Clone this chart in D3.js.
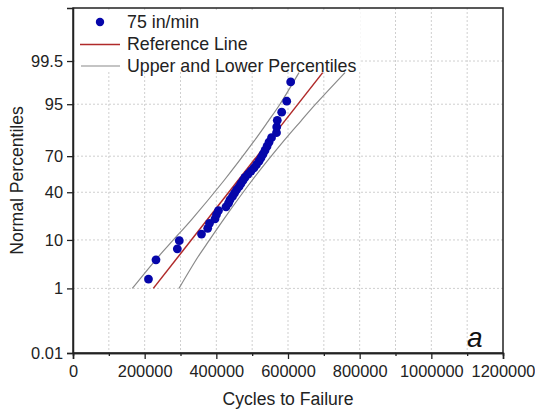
<!DOCTYPE html>
<html><head><meta charset="utf-8">
<script src="https://cdn.jsdelivr.net/npm/d3@7"></script>
<style>
html,body{margin:0;padding:0;background:#fff;}
svg{display:block;font-family:"Liberation Sans",Arial,sans-serif;}
</style></head>
<body><svg id="chart" width="535" height="413"></svg>
<script>
// ---- data ----
const seriesName = "75 in/min";
const cycles = [210700, 231600, 291100, 296600, 358600, 375900, 380900, 396300, 400500, 406000,
  427000, 434000, 438100, 445100, 450700, 456300, 463300, 468800, 474400, 480000,
  488400, 496700, 505100, 512100, 519100, 524700, 530200, 535800, 541400, 547000,
  554000, 567900, 568500, 570100, 582400, 596400, 607500];
const refPct = [1, 99];
const refCycles = [224100, 696800];
const bandPct = [1, 5, 10, 20, 50, 80, 90, 95, 99];
const bandLowerCycles = [165500, 238000, 280000, 331000, 421400, 504500, 545000, 577500, 630700];
const bandUpperCycles = [295800, 349000, 381000, 420000, 499500, 587000, 636000, 677000, 759100];
const yTickPct = [0.01, 1, 10, 40, 70, 95, 99.5];
const yTickLabels = ["0.01", "1", "10", "40", "70", "95", "99.5"];
const xTicks = [0, 200000, 400000, 600000, 800000, 1000000, 1200000];
const xMinorTicks = [100000, 300000, 500000, 700000, 900000, 1100000];
const xGrid = [100000, 200000, 300000, 400000, 500000, 600000, 700000, 800000, 900000, 1000000, 1100000];
const legendLabels = ["75 in/min", "Reference Line", "Upper and Lower Percentiles"];

// inverse normal CDF (probability-axis transform)
function probit(p){
  const a=[-3.969683028665376e+01,2.209460984245205e+02,-2.759285104469687e+02,1.383577518672690e+02,-3.066479806614716e+01,2.506628277459239e+00];
  const b=[-5.447609879822406e+01,1.615858368580409e+02,-1.556989798598866e+02,6.680131188771972e+01,-1.328068155288572e+01];
  const c=[-7.784894002430293e-03,-3.223964580411365e-01,-2.400758277161838e+00,-2.549732539343734e+00,4.374664141464968e+00,2.938163982698783e+00];
  const d=[7.784695709041462e-03,3.224671290700398e-01,2.445134137142996e+00,3.754408661907416e+00];
  const pl=0.02425, ph=1-pl;
  if(p<pl){const q=Math.sqrt(-2*Math.log(p));return (((((c[0]*q+c[1])*q+c[2])*q+c[3])*q+c[4])*q+c[5])/((((d[0]*q+d[1])*q+d[2])*q+d[3])*q+1);}
  if(p<=ph){const q=p-0.5,r=q*q;return (((((a[0]*r+a[1])*r+a[2])*r+a[3])*r+a[4])*r+a[5])*q/(((((b[0]*r+b[1])*r+b[2])*r+b[3])*r+b[4])*r+1);}
  const q=Math.sqrt(-2*Math.log(1-p));return -(((((c[0]*q+c[1])*q+c[2])*q+c[3])*q+c[4])*q+c[5])/((((d[0]*q+d[1])*q+d[2])*q+d[3])*q+1);
}

const L=73, R=503, T=8, B=353;
const svg = d3.select("#chart");
const x = d3.scaleLinear().domain([0, 1200000]).range([L, R]);
const yz = d3.scaleLinear().domain([probit(0.0001), probit(0.9999)]).range([B, T]);
const yp = p => yz(probit(p/100));

// grid
const g = svg.append("g");
g.selectAll("line.vg").data(xGrid).join("line")
  .attr("x1", d=>x(d)).attr("x2", d=>x(d)).attr("y1", T).attr("y2", B)
  .attr("stroke", "#cfcfcf").attr("stroke-width", 1).attr("stroke-dasharray", "2,2");
g.selectAll("line.hg").data(yTickPct.slice(1)).join("line")
  .attr("x1", L).attr("x2", R).attr("y1", d=>yp(d)).attr("y2", d=>yp(d))
  .attr("stroke", "#cfcfcf").attr("stroke-width", 1).attr("stroke-dasharray", "2,2");

// lines
const line = d3.line().x(d=>x(d[0])).y(d=>yp(d[1])).curve(d3.curveCatmullRom);
svg.append("path").datum(bandPct.map((p,i)=>[bandLowerCycles[i], p]))
  .attr("d", line).attr("fill","none").attr("stroke","#8a8a8a").attr("stroke-width",1.2);
svg.append("path").datum(bandPct.map((p,i)=>[bandUpperCycles[i], p]))
  .attr("d", line).attr("fill","none").attr("stroke","#8a8a8a").attr("stroke-width",1.2);
svg.append("path").datum(refPct.map((p,i)=>[refCycles[i], p]))
  .attr("d", line).attr("fill","none").attr("stroke","#b02a2a").attr("stroke-width",1.5);

// points (Blom plotting positions)
const n = cycles.length;
const sorted = cycles.slice().sort((a,b)=>a-b);
svg.selectAll("circle.pt").data(sorted).join("circle")
  .attr("cx", d=>x(d)).attr("cy", (d,i)=>yp(100*(i+1-0.375)/(n+0.25)))
  .attr("r", 4.4).attr("fill", "#0606aa");

// legend
const lg = svg.append("g");
lg.append("rect").attr("x", 75).attr("y", 10).attr("width", 285).attr("height", 62).attr("fill", "#fff");
lg.append("circle").attr("cx", 100).attr("cy", 22).attr("r", 4.2).attr("fill", "#0606aa");
lg.append("line").attr("x1", 80).attr("x2", 120).attr("y1", 44.5).attr("y2", 44.5).attr("stroke", "#b02a2a").attr("stroke-width", 1.5);
lg.append("line").attr("x1", 81).attr("x2", 120).attr("y1", 66).attr("y2", 66).attr("stroke", "#8a8a8a").attr("stroke-width", 1.2);
lg.selectAll("text").data(legendLabels).join("text")
  .attr("x", 127).attr("y", (d,i)=>22+i*22).attr("dy", "0.36em")
  .attr("font-size", 17.8).attr("fill", "#222").text(d=>d);

// frame
svg.append("rect").attr("x", L).attr("y", T).attr("width", R-L).attr("height", B-T)
  .attr("fill", "none").attr("stroke", "#222").attr("stroke-width", 1.5);

// axes
const xAxis = svg.append("g").attr("transform", `translate(0,${B})`)
  .call(d3.axisBottom(x).tickValues(xTicks).tickFormat(d3.format("d")).tickSize(6).tickPadding(6));
const xMinor = svg.append("g").attr("transform", `translate(0,${B})`)
  .call(d3.axisBottom(x).tickValues(xMinorTicks).tickFormat("").tickSize(3));
const yAxis = svg.append("g").attr("transform", `translate(${L},0)`)
  .call(d3.axisLeft(yz).tickValues(yTickPct.map(p=>probit(p/100))).tickFormat((d,i)=>yTickLabels[i]).tickSize(6).tickPadding(4));
[xAxis, xMinor, yAxis].forEach(a=>{
  a.select(".domain").attr("stroke", "#222").attr("stroke-width", 1.5);
  a.selectAll(".tick line").attr("stroke", "#222").attr("stroke-width", 1.3);
  a.selectAll(".tick text").attr("font-size", 16.4).attr("fill", "#222")
    .attr("font-family", "Liberation Sans, Arial, sans-serif");
});

// titles
svg.append("text").attr("x", (L+R)/2).attr("y", 405).attr("text-anchor", "middle")
  .attr("font-size", 17.6).attr("fill", "#222").text("Cycles to Failure");
svg.append("text").attr("transform", `translate(23,${(T+B)/2}) rotate(-90)`).attr("text-anchor", "middle")
  .attr("font-size", 17.6).attr("fill", "#222").text("Normal Percentiles");
svg.append("text").attr("x", 467).attr("y", 347).attr("font-size", 28).attr("font-style", "italic")
  .attr("fill", "#111").text("a");
</script></body></html>
